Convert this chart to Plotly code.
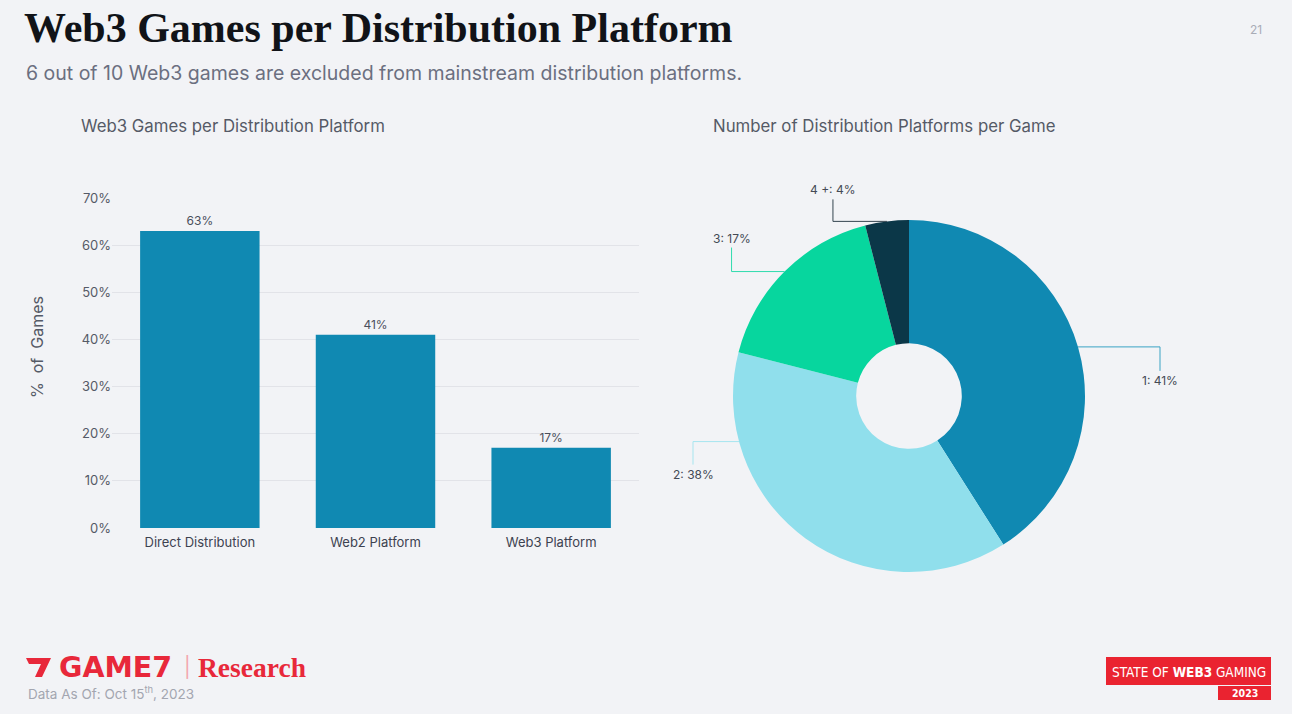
import math
import plotly.graph_objects as go

W, H = 1292, 714

# ---------------- data ----------------
bar_categories = ["Direct Distribution", "Web2 Platform", "Web3 Platform"]
bar_values = [63, 41, 17]
y_tick_values = [0, 10, 20, 30, 40, 50, 60, 70]
y_tick_labels = ["0%", "10%", "20%", "30%", "40%", "50%", "60%", "70%"]
pie_labels = ["1", "2", "3", "4 +"]
pie_values = [41, 38, 17, 4]

# ---------------- style ----------------
BG = "#f2f3f6"
BAR_COLOR = "#1089b2"
PIE_COLORS = ["#1089b2", "#90dfec", "#07d69e", "#0b3748"]
LINE_COLORS = ["#3aa3c4", "#a6e5ef", "#30dbae", "#34444f"]
SANS = "Inter, Roboto, 'Noto Sans', sans-serif"
SERIF = "'Liberation Serif', 'DejaVu Serif', serif"
COND = "'DejaVu Sans Condensed', 'Liberation Sans Narrow', 'DejaVu Sans', sans-serif"
RED = "#e8283a"

# pie geometry (px) and leader layout
CX, CY, R = 909, 396, 176
HOLE = 0.30
leader_pos = [0.5, 0.785, 0.5, 0.5]      # fraction along slice arc
leader_h = [82, 46, 53, 54]               # horizontal run (px)
leader_v = [24, 23, -24, -22]             # vertical run (px, + = down)


def px(x):
    return x / W


def py(y):
    return 1 - y / H


fig = go.Figure()

fig.add_trace(go.Bar(
    x=bar_categories, y=bar_values,
    marker=dict(color=BAR_COLOR, line=dict(width=0)),
    width=0.68,
    text=[f"{v}%" for v in bar_values],
    textposition="outside",
    textfont=dict(family=SANS, size=12, color="#4a4f5c"),
    cliponaxis=False,
    showlegend=False,
    hoverinfo="x+y",
))

fig.add_trace(go.Pie(
    labels=pie_labels, values=pie_values,
    hole=HOLE, sort=False, direction="clockwise", rotation=0,
    marker=dict(colors=PIE_COLORS, line=dict(width=0)),
    textinfo="none", showlegend=False,
    domain=dict(x=[px(CX - R), px(CX + R)], y=[py(CY + R), py(CY - R)]),
))

# leader lines + labels for the pie, derived from the values
total = sum(pie_values)
cum = 0
for i, v in enumerate(pie_values):
    start = cum / total * 360
    end = (cum + v) / total * 360
    cum += v
    ang = math.radians(start + (end - start) * leader_pos[i])
    ax = CX + R * math.sin(ang)
    ay = CY - R * math.cos(ang)
    side = 1 if math.sin(ang) > 0 else -1
    bx = ax + side * leader_h[i]
    by = ay + leader_v[i]
    fig.add_shape(type="path", xref="paper", yref="paper",
                  path=f"M {px(ax)} {py(ay)} L {px(bx)} {py(ay)} L {px(bx)} {py(by)}",
                  line=dict(color=LINE_COLORS[i], width=1))
    fig.add_annotation(x=px(bx), y=py(by), xref="paper", yref="paper",
                       text=f"{pie_labels[i]}: {v}%", showarrow=False,
                       xanchor="center", yanchor="top" if leader_v[i] > 0 else "bottom",
                       font=dict(family=SANS, size=12, color="#444a55"))

fig.update_layout(
    width=W, height=H,
    margin=dict(l=0, r=0, t=0, b=0),
    paper_bgcolor=BG, plot_bgcolor=BG,
    font=dict(family=SANS, color="#444a55"),
    xaxis=dict(domain=[px(112), px(639)], range=[-0.5, 2.5],
               showgrid=False, zeroline=False, showline=False, ticks="",
               ticklabelstandoff=5,
               tickfont=dict(family=SANS, size=13, color="#3d4250"),
               automargin=False, fixedrange=True),
    yaxis=dict(domain=[py(528), py(198)], range=[0, 70],
               tickmode="array", tickvals=y_tick_values, ticktext=y_tick_labels,
               showgrid=True, gridcolor="#e2e3e8", gridwidth=1,
               zeroline=False, showline=False, ticks="",
               tickfont=dict(family=SANS, size=13, color="#555a66"),
               automargin=False, fixedrange=True),
)

ann = []
# headings
ann.append(dict(x=px(22), y=py(28), text="<b>Web3 Games per Distribution Platform</b>",
                xanchor="left", yanchor="middle",
                font=dict(family=SERIF, size=42, color="#111318")))
ann.append(dict(x=px(24), y=py(73),
                text="6 out of 10 Web3 games are excluded from mainstream distribution platforms.",
                xanchor="left", yanchor="middle",
                font=dict(family=SANS, size=19.5, color="#6b6f80")))
ann.append(dict(x=px(1256), y=py(30), text="21", xanchor="center", yanchor="middle",
                font=dict(family=SANS, size=12, color="#a9acb6")))
# sub-chart titles
ann.append(dict(x=px(79), y=py(126), text="Web3 Games per Distribution Platform",
                xanchor="left", yanchor="middle",
                font=dict(family=SANS, size=16.8, color="#555a66")))
ann.append(dict(x=px(711), y=py(126), text="Number of Distribution Platforms per Game",
                xanchor="left", yanchor="middle",
                font=dict(family=SANS, size=16.8, color="#555a66")))
# y axis title
ann.append(dict(x=px(37), y=py(347), text="%  of  Games", textangle=-90,
                xanchor="center", yanchor="middle",
                font=dict(family=SANS, size=16, color="#555a66")))
# footer
ann.append(dict(x=px(57), y=py(667), text="<b>GAME7</b>", xanchor="left", yanchor="middle",
                font=dict(family="'DejaVu Sans', sans-serif", size=28.5, color=RED)))
ann.append(dict(x=px(188), y=py(667), text="|", xanchor="center", yanchor="middle",
                font=dict(family=SANS, size=20, color="#f3a6ad")))
ann.append(dict(x=px(196), y=py(667), text="<b>Research</b>", xanchor="left", yanchor="middle",
                font=dict(family=SERIF, size=27.5, color=RED)))
ann.append(dict(x=px(26), y=py(693), text="Data As Of: Oct 15<sup>th</sup>, 2023",
                xanchor="left", yanchor="middle",
                font=dict(family=SANS, size=13.5, color="#a3a6b0")))
ann.append(dict(x=px(1188.5), y=py(671.5), text="STATE OF <b>WEB3</b> GAMING",
                xanchor="center", yanchor="middle",
                font=dict(family=COND, size=13.5, color="white")))
ann.append(dict(x=px(1244.5), y=py(693), text="<b>2023</b>",
                xanchor="center", yanchor="middle",
                font=dict(family=COND, size=10.5, color="white")))
for a in ann:
    a.update(xref="paper", yref="paper", showarrow=False)
    fig.add_annotation(**a)

# logo decorations
fig.add_shape(type="path", xref="paper", yref="paper",
              path=(f"M {px(26)} {py(658)} L {px(51)} {py(658)} L {px(42)} {py(677)} "
                    f"L {px(35)} {py(677)} L {px(41)} {py(664)} L {px(29)} {py(664)} Z"),
              fillcolor=RED, line=dict(width=0))
fig.add_shape(type="rect", xref="paper", yref="paper",
              x0=px(1106), x1=px(1271), y0=py(685), y1=py(657),
              fillcolor="#ea2330", line=dict(width=0), layer="below")
fig.add_shape(type="rect", xref="paper", yref="paper",
              x0=px(1218), x1=px(1271), y0=py(700), y1=py(686),
              fillcolor="#ea2330", line=dict(width=0), layer="below")

fig.write_html("out.html", config={"displayModeBar": False},
               post_script="document.body.style.margin='0';document.body.style.overflow='hidden';")
